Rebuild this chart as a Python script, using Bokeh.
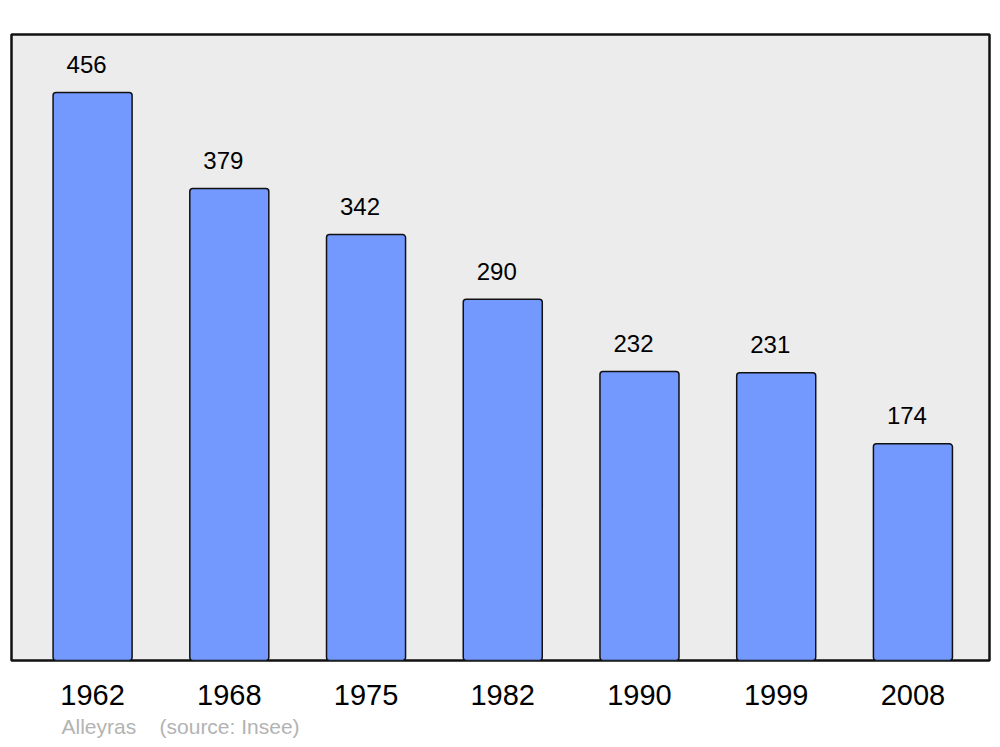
from bokeh.plotting import figure
from bokeh.models import FixedTicker, Range1d, Title, ColumnDataSource
from bokeh.embed import file_html
from bokeh.resources import INLINE
from bokeh.core.properties import value

years = ["1962", "1968", "1975", "1982", "1990", "1999", "2008"]
population = [456, 379, 342, 290, 232, 231, 174]
positions = list(range(len(years)))
labels = [str(v) for v in population]

src = ColumnDataSource(dict(x=positions, top=population, label=labels))

p = figure(width=1000, height=747, output_backend="svg", toolbar_location=None,
           x_range=Range1d(-0.593, 6.56), y_range=Range1d(0, 502.6),
           y_axis_location=None, min_border_left=11, min_border_right=11,
           min_border_top=34, min_border_bottom=87)
p.background_fill_color = "#ececec"
p.border_fill_color = "white"
p.outline_line_color = "#111111"
p.outline_line_width = 2.5
p.grid.visible = False

p.vbar(x="x", top="top", width=0.578, bottom=0, source=src,
       fill_color="#7399ff", line_color="#111111", line_width=1.5, border_radius=3)
p.text(x="x", y="top", text="label", source=src, x_offset=-6, y_offset=-28,
       text_align="center", text_baseline="middle",
       text_font=value("Liberation Sans"), text_font_size="24px", text_color="black")

ax = p.xaxis[0]
ax.ticker = FixedTicker(ticks=positions)
ax.major_label_overrides = {i: y for i, y in zip(positions, years)}
ax.axis_line_color = None
ax.major_tick_line_color = None
ax.minor_tick_line_color = None
ax.major_tick_out = 0
ax.major_tick_in = 0
ax.major_label_standoff = 24
ax.major_label_text_font = "Liberation Sans"
ax.major_label_text_font_size = "29px"
ax.major_label_text_color = "black"

footer = Title(text="Alleyras\u00a0\u00a0\u00a0\u00a0(source: Insee)", align="left", offset=50,
               text_font="Liberation Sans", text_font_size="21px",
               text_color="#b3b3b3", text_font_style="normal", standoff=10)
p.add_layout(footer, "below")

open("out.html", "w").write(file_html(p, INLINE))
